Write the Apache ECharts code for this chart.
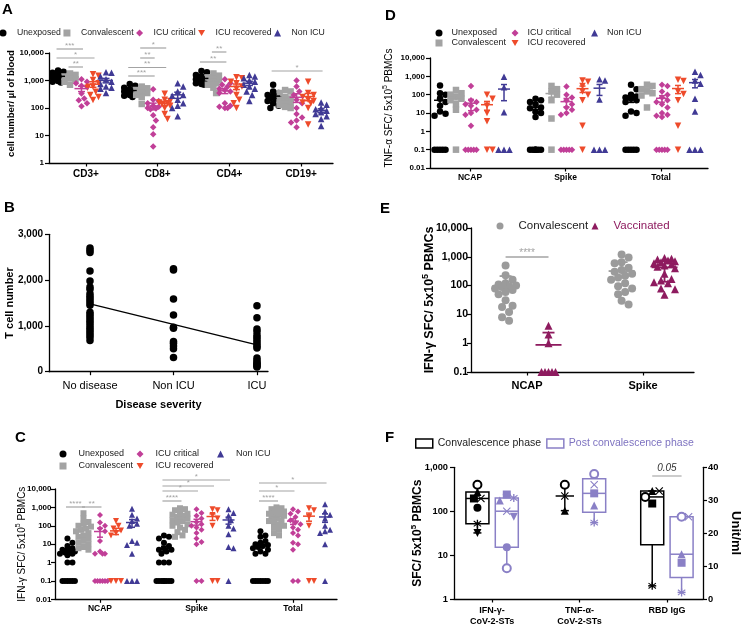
<!DOCTYPE html>
<html>
<head>
<meta charset="utf-8">
<title>Figure</title>
<script src="https://cdn.jsdelivr.net/npm/echarts@6.0.0/dist/echarts.min.js"></script>
<style>
html,body{margin:0;padding:0;background:#ffffff;}
#chart{width:745px;height:627px;}
</style>
</head>
<body>
<div id="chart"></div>
<script>
/* ===================== DATA ===================== */
const groupNames = ['Unexposed', 'Convalescent', 'ICU critical', 'ICU recovered', 'Non ICU'];

// A: cell number / µl of blood; each marker = [Unexposed, Convalescent, ICU critical, ICU recovered, Non ICU]
const catsA = ['CD3+', 'CD8+', 'CD4+', 'CD19+'];
const A_CD3 = [
  [2300, 2100, 1900, 1700, 1600, 1500, 1400, 1300, 1200, 1100, 1000, 950, 900, 850],
  [1800, 1600, 1400, 1200, 1100, 900, 700],
  [1100, 900, 800, 650, 600, 340, 220, 190, 150, 115],
  [1700, 1500, 1050, 800, 600, 550, 390, 300, 250, 195],
  [2000, 1900, 1400, 1100, 900, 750, 600, 550, 500, 350]
];
const A_CD8 = [
  [750, 650, 550, 480, 440, 400, 380, 350, 320, 300, 280, 250],
  [600, 520, 450, 400, 350, 300, 250, 140],
  [480, 200, 180, 150, 120, 110, 100, 95, 90, 55, 35, 20, 11, 4],
  [330, 200, 180, 160, 150, 140, 120, 100, 60, 40],
  [800, 600, 400, 300, 280, 200, 150, 120, 100, 50]
];
const A_CD4 = [
  [2200, 2000, 1600, 1400, 1200, 1100, 1000, 950, 900, 850, 800, 750, 700],
  [1800, 1500, 1300, 1200, 1000, 900, 800, 700, 550, 350],
  [1100, 800, 700, 600, 500, 450, 400, 350, 150, 120, 110, 100, 100],
  [1300, 1200, 900, 800, 600, 500, 300, 200, 150, 100],
  [1600, 1400, 1200, 1000, 900, 700, 600, 500, 400, 300, 180]
];
const A_CD19 = [
  [700, 400, 350, 300, 280, 250, 230, 200, 180, 150, 120, 100],
  [450, 400, 350, 250, 220, 200, 180, 150, 130, 110, 100],
  [1000, 600, 400, 300, 200, 150, 100, 60, 45, 35, 30, 20],
  [900, 350, 300, 250, 200, 180, 160, 150, 100, 25],
  [160, 130, 100, 90, 80, 70, 60, 50, 40, 22]
];
// [category, group from, group to, label]
const sigA = [[0, 0, 2, '***'], [0, 0, 3, '*'], [0, 1, 2, '**'],
  [1, 1, 3, '*'], [1, 1, 2, '**'], [1, 0, 3, '**'], [1, 0, 2, '***'],
  [2, 1, 2, '**'], [2, 0, 2, '**'], [3, 0, 4, '*']];

// B: T cell number by disease severity
const catsB = ['No disease', 'Non ICU', 'ICU'];
const B_noDisease = [2700, 2650, 2600, 2200, 1980, 1850, 1800, 1700, 1650, 1600, 1550, 1500, 1450, 1300, 1250, 1200, 1150, 1100, 1050, 1000, 950, 900, 850, 800, 750, 680];
const B_nonICU = [2250, 2220, 1590, 1240, 970, 950, 660, 620, 560, 500, 310];
const B_ICU = [1440, 1180, 930, 880, 800, 750, 700, 650, 600, 550, 520, 300, 250, 200, 180, 150, 120, 100];

// C: IFN-γ SFC / 5x10^5 PBMCs (0 = no response, drawn on the 0.1 line)
const catsC = ['NCAP', 'Spike', 'Total'];
const C_NCAP = [
  [20, 12, 8, 6, 5, 5, 4, 4, 3.5, 3, 3, 2.5, 1, 1, 0, 0, 0, 0, 0, 0],
  [480, 250, 160, 130, 100, 90, 70, 60, 50, 40, 30, 25, 20, 15, 12, 10, 7, 6, 5],
  [380, 150, 100, 70, 50, 15, 4, 3, 3, 3, 0, 0, 0, 0, 0, 0],
  [180, 100, 70, 55, 40, 30, 0, 0, 0],
  [850, 400, 250, 180, 130, 100, 15, 12, 9, 3, 0, 0, 0]
];
const C_Spike = [
  [30, 25, 20, 12, 8, 6, 5, 5, 4, 3, 1, 1, 1, 0, 0, 0, 0, 0, 0, 0, 0],
  [900, 800, 700, 550, 450, 400, 350, 300, 250, 200, 180, 150, 120, 100, 80, 60, 45, 30, 25],
  [800, 500, 350, 250, 160, 120, 100, 80, 60, 40, 20, 13, 10, 0, 0],
  [800, 700, 380, 250, 100, 0, 0],
  [800, 500, 350, 200, 100, 70, 35, 7, 6, 0]
];
const C_Total = [
  [50, 30, 25, 15, 12, 10, 9, 8, 7, 6, 5, 4, 3, 3, 0, 0, 0, 0, 0, 0, 0],
  [1000, 900, 800, 700, 600, 500, 450, 400, 350, 300, 250, 200, 180, 150, 120, 100, 80, 60, 40, 30],
  [800, 600, 450, 300, 200, 150, 120, 80, 60, 40, 30, 12, 10, 5, 0, 0],
  [900, 700, 300, 100, 0, 0],
  [1500, 600, 400, 250, 100, 60, 50, 40, 10, 0]
];
const sigC = [[0, 0, 1, '****'], [0, 1, 2, '**'],
  [1, 0, 4, '*'], [1, 0, 3, '*'], [1, 0, 2, '*'], [1, 0, 1, '****'],
  [2, 0, 4, '*'], [2, 0, 2, '*'], [2, 0, 1, '****']];

// D: TNF-α SFC / 5x10^5 PBMCs (0 = no response, drawn on the 0.1 line)
const catsD = ['NCAP', 'Spike', 'Total'];
const D_NCAP = [
  [320, 120, 100, 60, 40, 25, 12, 9, 7, 0, 0, 0, 0, 0],
  [180, 120, 100, 80, 60, 50, 30, 15, 0],
  [300, 50, 40, 30, 25, 15, 10, 8, 2, 0, 0, 0, 0, 0],
  [100, 60, 25, 10, 3.5, 0, 0],
  [950, 250, 11, 0, 0, 0]
];
const D_Spike = [
  [60, 50, 40, 30, 20, 18, 12, 10, 6, 0, 0, 0, 0, 0, 0, 0],
  [300, 200, 150, 100, 50, 5, 0],
  [280, 100, 70, 50, 30, 20, 15, 10, 8, 0, 0, 0, 0, 0],
  [600, 500, 300, 150, 100, 50, 2, 0],
  [700, 600, 55, 0, 0, 0]
];
const D_Total = [
  [350, 200, 100, 80, 70, 60, 50, 40, 12, 10, 7, 0, 0, 0, 0, 0],
  [350, 300, 200, 150, 120, 90, 20],
  [350, 300, 150, 100, 70, 50, 40, 30, 20, 10, 8, 7, 6, 0, 0, 0, 0, 0],
  [650, 550, 150, 110, 50, 2, 0],
  [1800, 1200, 600, 400, 60, 12, 0, 0, 0]
];

// E: IFN-γ SFC, convalescent vs vaccinated (0 = no response, drawn at 0.1)
const catsE = ['NCAP', 'Spike'];
const namesE = ['Convalescent', 'Vaccinated'];
const E_NCAP = [
  [500, 230, 160, 120, 110, 100, 95, 90, 80, 70, 60, 50, 31, 20, 18, 12, 8, 6],
  [4, 2, 1, 0, 0, 0, 0, 0]
];
const E_Spike = [
  [1200, 950, 650, 600, 420, 350, 300, 260, 220, 190, 160, 120, 95, 80, 60, 50, 30, 22],
  [900, 850, 800, 750, 700, 650, 600, 550, 500, 450, 400, 260, 170, 150, 130, 120, 80, 75, 48]
];
const sigE = [[0, 0, 1, '****']];

// F: paired patients (same order = same patient symbol); null = not measured
const catsF = ['IFN-\u03b3-\nCoV-2-STs', 'TNF-\u03b1-\nCoV-2-STs', 'RBD IgG'];
const namesF = ['Convalescence phase', 'Post convalescence phase'];
const F_conv_IFN = [400, 275, 195, 195, 120, 52, 32];
const F_post_IFN = [5, 175, 100, 240, 15, 200, 75];
const F_conv_TNF = [400, 103, 222, null, null, null, null];
const F_post_TNF = [700, 135, 400, 255, null, 55, null];
const F_conv_RBD = [31, 32.8, 32.8, 29, null, 4, null];   // Unit/ml (right axis)
const F_post_RBD = [25, 13.6, 25, 11, null, 2, null];
const sigF = [[2, 0, 1, '0.05']];

/* ===================== STYLE / LAYOUT ===================== */
const FONT = '"Liberation Sans", Arial, Helvetica, sans-serif';
const BLACK = '#000000';
const COLORS = ['#000000', '#a3a3a3', '#c13f98', '#ee4b2b', '#403a95'];
const MAROON = '#8e1b5f';
const PURPLE = '#8a80c6';
const SIG_GRAY = '#a3a3a3';
const TRI_DOWN = 'path://M0,0L10,0L5,8.66Z';
const CROSS = 'path://M1,0L5,4L9,0L10,1L6,5L10,9L9,10L5,6L1,10L0,9L4,5L0,1Z';
const ASTER = 'path://M4.2,0L5.8,0L5.8,10L4.2,10Z M0.2,2.2L0.9,1.0L9.8,7.8L9.1,9.0Z M0.2,7.8L9.1,1.0L9.8,2.2L0.9,9.0Z';
const SYMS = ['circle', 'rect', 'diamond', TRI_DOWN, 'triangle'];
const PATIENT_SYMS = ['emptyCircle', 'triangle', CROSS, 'rect', 'circle', ASTER, TRI_DOWN];

const GRIDS = [
  {left: 49, top: 53, width: 284, height: 110},
  {left: 49, top: 234.3, width: 219, height: 137.4},
  {left: 55, top: 489, width: 282, height: 110.3},
  {left: 430, top: 58, width: 278, height: 110},
  {left: 471, top: 228, width: 223, height: 144},
  {left: 454, top: 467.3, width: 255, height: 132}
];
const XR = [[-0.516, 3.445], [-0.491, 2.132], [-0.466, 2.456], [-0.419, 2.492], [-0.483, 1.439], [-0.436, 2.413]];
const OFF_A = [-0.39, -0.223, -0.063, 0.098, 0.279];
const OFF_C = [-0.337, -0.171, 0, 0.166, 0.332];
const OFF_D = [-0.314, -0.147, 0.01, 0.178, 0.356];
const OFF_E = [-0.185, 0.185];
const OFF_F = [-0.168, 0.168];
// bracket line heights, px relative to top of the plot area
const DY_A = [-4, 5, 14, -5, 5, 14.5, 23, -1, 9, 18];
const DY_C = [18, 18, -9, -3, 2, 12, -6, 2, 12];
const DY_E = [29];
const DY_F = [8.7];

/* ===================== HELPERS ===================== */
const mean = a => a.reduce((s, v) => s + v, 0) / a.length;
const sdev = a => { const m = mean(a); return Math.sqrt(a.reduce((s, v) => s + (v - m) * (v - m), 0) / (a.length - 1)); };
const sem = a => sdev(a) / Math.sqrt(a.length);
function quant(sorted, p) {
  const n = sorted.length; let r = (n + 1) * p;
  r = Math.max(1, Math.min(n, r));
  const lo = Math.floor(r), hi = Math.ceil(r);
  return sorted[lo - 1] + (r - lo) * (sorted[hi - 1] - sorted[lo - 1]);
}
function fmtLog(v) {
  if (v >= 1) return Math.round(v).toLocaleString('en-US');
  return String(+v.toPrecision(1));
}

const series = [];
const swarmJobs = [];

function errRender(color, mh, ch, lw) {
  return function (params, api) {
    const x = api.value(0), m = api.value(1), lo = api.value(2), hi = api.value(3);
    const pm = api.coord([x, m]), ph = api.coord([x, hi]);
    const st = {stroke: color, lineWidth: lw};
    const ch1 = [
      {type: 'line', shape: {x1: pm[0] - mh, y1: pm[1], x2: pm[0] + mh, y2: pm[1]}, style: st},
      {type: 'line', shape: {x1: pm[0], y1: pm[1], x2: pm[0], y2: ph[1]}, style: st},
      {type: 'line', shape: {x1: pm[0] - ch, y1: ph[1], x2: pm[0] + ch, y2: ph[1]}, style: st}
    ];
    if (lo > 0) {
      const pl = api.coord([x, lo]);
      ch1.push({type: 'line', shape: {x1: pm[0], y1: pm[1], x2: pm[0], y2: pl[1]}, style: st});
      ch1.push({type: 'line', shape: {x1: pm[0] - ch, y1: pl[1], x2: pm[0] + ch, y2: pl[1]}, style: st});
    }
    return {type: 'group', children: ch1};
  };
}

function addDotPanel(cfg) {
  cfg.names.forEach((name, g) => {
    const pts = [], err = [];
    cfg.cats.forEach((catArr, c) => {
      const vals = catArr[g];
      const cx = c + cfg.off[g];
      vals.forEach(v => pts.push([cx, v > 0 ? v : cfg.floor]));
      const m = mean(vals), e = cfg.err === 'sd' ? sdev(vals) : sem(vals);
      err.push([cx, m, m - e, m + e]);
    });
    const id = 'pts' + cfg.gi + '_' + g;
    series.push({type: 'scatter', id, name, xAxisIndex: cfg.gi, yAxisIndex: cfg.gi, data: pts,
      symbol: cfg.symbols[g], symbolSize: cfg.size, itemStyle: {color: cfg.colors[g], opacity: 1}, z: 2, silent: true});
    swarmJobs.push({id, refY: cfg.floor, d: cfg.d, maxW: cfg.maxW});
    series.push({type: 'custom', name: name + ' mean', xAxisIndex: cfg.gi, yAxisIndex: cfg.gi, silent: true, z: 3,
      renderItem: errRender(cfg.colors[g], cfg.mh, cfg.ch, cfg.lw || 1.5), data: err});
  });
}

function addBrackets(gi, yi, yMax, list, off, dys, st) {
  const items = list.map(([c, g1, g2, lab], i) => ({x1: c + off[g1], x2: c + off[g2], lab, dy: dys[i]}));
  series.push({type: 'custom', xAxisIndex: gi, yAxisIndex: yi, silent: true, z: 4, clip: false,
    data: items.map(it => [it.x1, yMax]),
    renderItem: function (params, api) {
      const it = items[params.dataIndex];
      const p1 = api.coord([it.x1, yMax]), p2 = api.coord([it.x2, yMax]);
      const y = p1[1] + it.dy;
      return {type: 'group', children: [
        {type: 'line', shape: {x1: p1[0] - st.ext, y1: y, x2: p2[0] + st.ext, y2: y}, style: {stroke: st.color, lineWidth: st.lw}},
        {type: 'text', x: (p1[0] + p2[0]) / 2, y: y - st.gap,
          style: {text: it.lab, fill: st.textColor, font: st.font, align: 'center', verticalAlign: 'bottom',
            textAlign: 'center', textVerticalAlign: 'bottom'}}
      ]};
    }});
}

function boxRender(color, bw, capW) {
  return function (params, api) {
    const x = api.value(0), n = api.value(6);
    const P = k => api.coord([x, api.value(k)]);
    const pMin = P(1), pQ1 = P(2), pMed = P(3), pQ3 = P(4), pMax = P(5);
    const cx = pMin[0];
    const st = {stroke: color, lineWidth: 1.5, fill: 'none'};
    const ch = [];
    const line = (x1, y1, x2, y2) => ch.push({type: 'line', shape: {x1, y1, x2, y2}, style: st});
    if (n >= 4) {
      ch.push({type: 'rect', shape: {x: cx - bw / 2, y: pQ3[1], width: bw, height: pQ1[1] - pQ3[1]}, style: st});
      line(cx - bw / 2, pMed[1], cx + bw / 2, pMed[1]);
      line(cx, pQ3[1], cx, pMax[1]);
      line(cx, pQ1[1], cx, pMin[1]);
    } else {
      line(cx - bw * 0.4, pMed[1], cx + bw * 0.4, pMed[1]);
      line(cx, pMax[1], cx, pMin[1]);
    }
    line(cx - capW / 2, pMax[1], cx + capW / 2, pMax[1]);
    line(cx - capW / 2, pMin[1], cx + capW / 2, pMin[1]);
    return {type: 'group', children: ch};
  };
}

function addBoxGroup(name, yi, entries, color, idSuffix) {
  const data = entries.map(([x, arr]) => {
    const s = arr.filter(v => v != null).slice().sort((a, b) => a - b);
    return [x, s[0], quant(s, 0.25), quant(s, 0.5), quant(s, 0.75), s[s.length - 1], s.length];
  });
  series.push({type: 'custom', name, xAxisIndex: 5, yAxisIndex: yi, silent: true, z: 2,
    renderItem: boxRender(color, 23, 8), data});
  const pts = [];
  entries.forEach(([x, arr]) => arr.forEach((v, p) => {
    if (v == null) return;
    const item = {value: [x, v], symbol: PATIENT_SYMS[p]};
    if (PATIENT_SYMS[p] === 'emptyCircle') item.itemStyle = {borderWidth: 1.5, borderColor: color, color: color};
    pts.push(item);
  }));
  const id = 'fpts' + idSuffix;
  series.push({type: 'scatter', id, xAxisIndex: 5, yAxisIndex: yi, data: pts, symbolSize: 8,
    itemStyle: {color, opacity: 1}, z: 3, silent: true});
  swarmJobs.push({id, refY: yi === 5 ? 1 : 0, d: 7, maxW: 8});
}

/* ===================== SERIES ===================== */
addDotPanel({gi: 0, cats: [A_CD3, A_CD8, A_CD4, A_CD19], off: OFF_A, names: groupNames, colors: COLORS, symbols: SYMS,
  size: 6.5, floor: 1, err: 'sem', mh: 7, ch: 3.5, d: 5.5, maxW: 6});
addBrackets(0, 0, 10000, sigA, OFF_A, DY_A, {color: SIG_GRAY, lw: 1.2, ext: 1.5, gap: -0.5, textColor: SIG_GRAY, font: '8px ' + FONT});

// B
series.push({type: 'scatter', name: 'T cells', xAxisIndex: 1, yAxisIndex: 1, symbol: 'circle', symbolSize: 7.5,
  itemStyle: {color: BLACK, opacity: 1}, z: 2, silent: true,
  data: [].concat(B_noDisease.map(v => [0, v]), B_nonICU.map(v => [1, v]), B_ICU.map(v => [2, v]))});
(function () {
  const xs = [], ys = [];
  [B_noDisease, B_nonICU, B_ICU].forEach((arr, i) => arr.forEach(v => { xs.push(i); ys.push(v); }));
  const mx = mean(xs), my = mean(ys);
  let sxy = 0, sxx = 0;
  xs.forEach((x, i) => { sxy += (x - mx) * (ys[i] - my); sxx += (x - mx) * (x - mx); });
  const b = sxy / sxx, a = my - b * mx;
  series.push({type: 'line', name: 'trend', xAxisIndex: 1, yAxisIndex: 1, data: [[0, a], [2, a + 2 * b]],
    symbol: 'none', lineStyle: {color: BLACK, width: 1.3}, z: 3, silent: true});
})();

addDotPanel({gi: 2, cats: [C_NCAP, C_Spike, C_Total], off: OFF_C, names: groupNames, colors: COLORS, symbols: SYMS,
  size: 6, floor: 0.1, err: 'sem', mh: 6, ch: 3, d: 5, maxW: 7.5});
addBrackets(2, 2, 10000, sigC, OFF_C, DY_C, {color: SIG_GRAY, lw: 1.2, ext: 1.5, gap: -0.5, textColor: SIG_GRAY, font: '8px ' + FONT});

addDotPanel({gi: 3, cats: [D_NCAP, D_Spike, D_Total], off: OFF_D, names: groupNames, colors: COLORS, symbols: SYMS,
  size: 6.5, floor: 0.1, err: 'sem', mh: 6, ch: 3, d: 5.5, maxW: 7.5});

addDotPanel({gi: 4, cats: [E_NCAP, E_Spike], off: OFF_E, names: namesE, colors: ['#9b9b9b', MAROON], symbols: ['circle', 'triangle'],
  size: 8, floor: 0.1, err: 'sd', mh: 13, ch: 6, d: 7, maxW: 11, lw: 1.8});
addBrackets(4, 4, 10000, sigE, OFF_E, DY_E, {color: SIG_GRAY, lw: 1.6, ext: 0, gap: -1, textColor: SIG_GRAY, font: '10px ' + FONT});

addBoxGroup(namesF[0], 5, [[0 + OFF_F[0], F_conv_IFN], [1 + OFF_F[0], F_conv_TNF]], BLACK, 'cl');
addBoxGroup(namesF[1], 5, [[0 + OFF_F[1], F_post_IFN], [1 + OFF_F[1], F_post_TNF]], PURPLE, 'pl');
addBoxGroup(namesF[0], 6, [[2 + OFF_F[0], F_conv_RBD]], BLACK, 'cr');
addBoxGroup(namesF[1], 6, [[2 + OFF_F[1], F_post_RBD]], PURPLE, 'pr');
addBrackets(5, 5, 1000, sigF, OFF_F, DY_F, {color: '#999999', lw: 1, ext: 0, gap: 3, textColor: '#333333', font: 'italic 10px ' + FONT});

/* ===================== AXES ===================== */
const AXLINE = {show: true, onZero: false, lineStyle: {color: BLACK, width: 1.3}};
function xAxisFor(gi, labels, fs, bold, margin, extra) {
  const vals = labels.map((_, i) => i);
  return Object.assign({
    type: 'value', gridIndex: gi, min: XR[gi][0], max: XR[gi][1],
    axisLine: AXLINE,
    axisTick: {show: true, customValues: vals, length: 3.5, lineStyle: {color: BLACK, width: 1.2}},
    axisLabel: {show: true, customValues: vals, formatter: v => labels[Math.round(v)] || '', fontFamily: FONT,
      fontSize: fs, fontWeight: bold ? 'bold' : 'normal', color: BLACK, margin, lineHeight: fs + 2},
    splitLine: {show: false}
  }, extra || {});
}
function nameCfg(name, gap, fs, bold, rotate, shiftUp) {
  const w = bold ? 'bold' : 'normal';
  return {name, nameLocation: 'middle', nameGap: gap, nameRotate: rotate == null ? 90 : rotate, nameMoveOverlap: false,
    nameTextStyle: {fontFamily: FONT, fontSize: fs, fontWeight: w, color: BLACK, lineHeight: fs + 4,
      padding: [0, 0, 0, shiftUp ? shiftUp * 2 : 0],
      rich: {sup: {fontFamily: FONT, fontSize: Math.round(fs * 0.68), fontWeight: w, color: BLACK,
        verticalAlign: 'top', lineHeight: Math.round(fs * 0.7)}}}};
}
function logY(gi, min, max, fs, margin, extra) {
  return Object.assign({
    type: 'log', logBase: 10, gridIndex: gi, min, max,
    axisLine: AXLINE,
    axisTick: {show: true, length: 4, lineStyle: {color: BLACK, width: 1.2}},
    minorTick: {show: false},
    axisLabel: {formatter: fmtLog, fontFamily: FONT, fontSize: fs, fontWeight: 'bold', color: BLACK, margin},
    splitLine: {show: false}
  }, extra || {});
}
function linY(gi, min, max, interval, fs, margin, extra) {
  return Object.assign({
    type: 'value', gridIndex: gi, min, max, interval,
    axisLine: AXLINE,
    axisTick: {show: true, length: 4, lineStyle: {color: BLACK, width: 1.2}},
    axisLabel: {formatter: v => v.toLocaleString('en-US'), fontFamily: FONT, fontSize: fs, fontWeight: 'bold', color: BLACK, margin},
    splitLine: {show: false}
  }, extra || {});
}

const xAxes = [
  xAxisFor(0, catsA, 10, true, 5),
  xAxisFor(1, catsB, 11, false, 8, {name: 'Disease severity', nameLocation: 'middle', nameGap: 28, nameMoveOverlap: false,
    nameTextStyle: {fontFamily: FONT, fontSize: 11, fontWeight: 'bold', color: BLACK}}),
  xAxisFor(2, catsC, 8.5, true, 4.5),
  xAxisFor(3, catsD, 8.5, true, 4.5),
  xAxisFor(4, catsE, 11, true, 7),
  xAxisFor(5, catsF, 9, true, 6)
];
const yAxes = [
  logY(0, 1, 10000, 8, 5, nameCfg('cell number/ \u00b5l of blood', 31, 9.5, true, 90, 4.5)),
  linY(1, 0, 3000, 1000, 10, 6, nameCfg('T cell number', 31.5, 11, true)),
  logY(2, 0.01, 10000, 8, 3.5, nameCfg('IFN-\u03b3 SFC/ 5x10{sup|5} PBMCs', 26, 10, false)),
  logY(3, 0.01, 10000, 8, 5, nameCfg('TNF-\u03b1 SFC/ 5x10{sup|5} PBMCs', 34, 10, false, 90, 5)),
  logY(4, 0.1, 10000, 10.5, 3, nameCfg('IFN-\u03b3 SFC/ 5x10{sup|5} PBMCs', 33, 12.5, true)),
  logY(5, 1, 1000, 9.3, 6, Object.assign({position: 'left'}, nameCfg('SFC/ 5x10{sup|5} PBMCs', 28, 12, true))),
  linY(5, 0, 40, 10, 9.3, 5, Object.assign({position: 'right'}, nameCfg('Unit/ml', 24, 13, true, -90)))
];

/* ===================== LEGENDS ===================== */
function legTS(fs, lh, padL, padR, color) {
  return {fontFamily: FONT, fontSize: fs, lineHeight: lh, color: color || '#222', padding: [0, padR || 0, 0, padL || 0]};
}
const LEG_BASE = {padding: 0, selectedMode: false, itemWidth: 7, itemHeight: 7};
const legends = [
  Object.assign({}, LEG_BASE, {left: -0.5, top: 28, orient: 'horizontal', itemGap: 2.5, data: groupNames,
    textStyle: legTS(8.7, 10, 5.5, 0)}),
  Object.assign({}, LEG_BASE, {left: 435.5, top: 28, orient: 'vertical', height: 26, itemGap: 0, data: groupNames,
    textStyle: legTS(9, 10, 4, 5.5)}),
  Object.assign({}, LEG_BASE, {left: 59.5, top: 449, orient: 'vertical', height: 28, itemGap: 2, data: groupNames,
    textStyle: legTS(9, 10, 7, 1.5)}),
  Object.assign({}, LEG_BASE, {left: 496.5, top: 219.5, orient: 'horizontal', itemGap: 3.3,
    textStyle: legTS(11.5, 13, 10, 0),
    data: [{name: 'Convalescent', icon: 'circle', itemStyle: {color: '#9b9b9b'}},
      {name: 'Vaccinated', icon: 'triangle', itemStyle: {color: MAROON}, textStyle: {color: MAROON}}]}),
  Object.assign({}, LEG_BASE, {left: 415, top: 437.5, orient: 'horizontal', itemWidth: 17, itemHeight: 9, itemGap: 5,
    textStyle: legTS(10.5, 12, 0, 0),
    data: [{name: namesF[0], icon: 'rect', itemStyle: {color: '#ffffff', borderColor: BLACK, borderWidth: 1.5}},
      {name: namesF[1], icon: 'rect', itemStyle: {color: '#ffffff', borderColor: PURPLE, borderWidth: 1.5},
        textStyle: {color: '#7d72c0'}}]})
];

/* ===================== PANEL LETTERS ===================== */
const letters = [['A', 2, 2], ['B', 4, 200], ['C', 15, 430], ['D', 385, 8], ['E', 380, 201], ['F', 385, 430]];

const option = {
  animation: false,
  backgroundColor: '#ffffff',
  textStyle: {fontFamily: FONT},
  grid: GRIDS.map(g => Object.assign({show: false, containLabel: false}, g)),
  xAxis: xAxes,
  yAxis: yAxes,
  legend: legends,
  graphic: letters.map(([t, x, y]) => ({type: 'text', left: x, top: y, silent: true,
    style: {text: t, font: 'bold 15px ' + FONT, fill: BLACK}})),
  series
};

const chart = echarts.init(document.getElementById('chart'), null, {renderer: 'canvas'});
chart.setOption(option);

/* ===== spread overlapping dots horizontally (beeswarm) using the chart's own pixel scale ===== */
function swarmOffsets(ys, d, maxW) {
  const step = d / 2, cands = [0];
  for (let k = 1; k * step <= maxW + 1e-6; k++) cands.push(k * step, -k * step);
  const order = ys.map((_, i) => i).sort((a, b) => (ys[a] - ys[b]) || (a - b));
  const placed = [], out = new Array(ys.length).fill(0);
  for (const i of order) {
    let best = 0, bestD = -1;
    for (const c of cands) {
      let md = Infinity;
      for (const p of placed) { const dd = Math.hypot(p[0] - c, p[1] - ys[i]); if (dd < md) md = dd; }
      if (md >= d) { best = c; break; }
      if (md > bestD + 1e-9) { bestD = md; best = c; }
    }
    placed.push([best, ys[i]]); out[i] = best;
  }
  return out;
}
const updates = [];
swarmJobs.forEach(job => {
  const s = series.find(x => x.id === job.id);
  const finder = {seriesId: job.id};
  const p0 = chart.convertToPixel(finder, [0, job.refY || 1]);
  const p1 = chart.convertToPixel(finder, [1, job.refY || 1]);
  const ppu = p1[0] - p0[0];
  const getV = d => (Array.isArray(d) ? d : d.value);
  const newData = s.data.map(d => Array.isArray(d) ? d.slice() : Object.assign({}, d, {value: d.value.slice()}));
  const groups = new Map();
  s.data.forEach((d, i) => { const k = getV(d)[0].toFixed(4); if (!groups.has(k)) groups.set(k, []); groups.get(k).push(i); });
  groups.forEach(idxs => {
    const ys = idxs.map(i => chart.convertToPixel(finder, getV(s.data[i]))[1]);
    const offs = swarmOffsets(ys, job.d, job.maxW);
    idxs.forEach((i, k) => { getV(newData[i])[0] += offs[k] / ppu; });
  });
  updates.push({id: job.id, data: newData});
});
chart.setOption({series: updates});
</script>
</body>
</html>
